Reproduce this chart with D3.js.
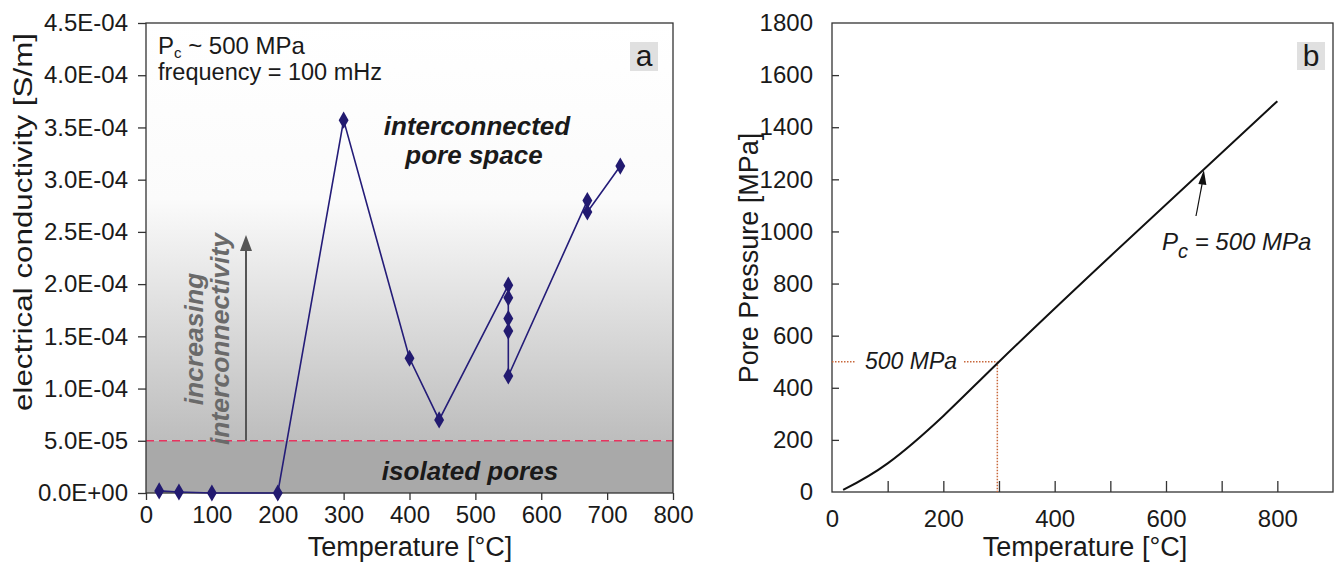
<!DOCTYPE html>
<html>
<head>
<meta charset="utf-8">
<script src="https://cdn.jsdelivr.net/npm/d3@7"></script>
<style>
  body { margin: 0; background: #fff; }
  svg { font-family: "Liberation Sans", Arial, sans-serif; }
</style>
</head>
<body>
<svg id="chart" width="1338" height="565"></svg>
<script>
// panel a: conductivity measurements
var tempA = [20, 50, 100, 200, 300, 400, 445, 550, 550, 550, 550, 550, 670, 670, 720];
var condA = [2e-6, 1e-6, 0, 0, 3.57e-4, 1.29e-4, 7.0e-5, 1.99e-4, 1.87e-4, 1.67e-4, 1.55e-4, 1.12e-4, 2.80e-4, 2.69e-4, 3.13e-4];
var condTicks = [0, 5e-5, 1e-4, 1.5e-4, 2e-4, 2.5e-4, 3e-4, 3.5e-4, 4e-4, 4.5e-4];
var condLabels = ["0.0E+00", "5.0E-05", "1.0E-04", "1.5E-04", "2.0E-04", "2.5E-04", "3.0E-04", "3.5E-04", "4.0E-04", "4.5E-04"];
var tempTicksA = [0, 100, 200, 300, 400, 500, 600, 700, 800];
var threshold = 5e-5;

// panel b: pore pressure curve
var tempB = [20, 100, 200, 300, 500, 800];
var presB = [8, 110, 292, 500, 905, 1500];
var presTicks = [0, 200, 400, 600, 800, 1000, 1200, 1400, 1600, 1800];
var tempTicksB = [0, 100, 200, 300, 400, 500, 600, 700, 800, 900];
var tempLabelsB = [0, 200, 400, 600, 800];
var pcMark = {t: 297, p: 500};
var pcArrowT = 668;

var svg = d3.select("#chart");
var defs = svg.append("defs");

// ---------- panel a ----------
var xa = d3.scaleLinear().domain([0, 800]).range([146, 673]);
var ya = d3.scaleLinear().domain([0, 4.5e-4]).range([493, 23]);

var grad = defs.append("linearGradient")
    .attr("id", "bg")
    .attr("gradientUnits", "userSpaceOnUse")
    .attr("x1", 0).attr("x2", 0)
    .attr("y1", ya(4.5e-4)).attr("y2", ya(threshold));
grad.append("stop").attr("offset", 0).attr("stop-color", "#ffffff");
grad.append("stop").attr("offset", 0.42).attr("stop-color", "#fbfbfb");
grad.append("stop").attr("offset", 1).attr("stop-color", "#bdbdbd");

var ga = svg.append("g");
ga.append("rect")
    .attr("x", xa(0)).attr("y", ya(4.5e-4))
    .attr("width", xa(800) - xa(0)).attr("height", ya(threshold) - ya(4.5e-4))
    .attr("fill", "url(#bg)");
ga.append("rect")
    .attr("x", xa(0)).attr("y", ya(threshold))
    .attr("width", xa(800) - xa(0)).attr("height", ya(0) - ya(threshold))
    .attr("fill", "#a9a9a9");

ga.append("line")
    .attr("x1", xa(0)).attr("x2", xa(800))
    .attr("y1", ya(threshold)).attr("y2", ya(threshold))
    .attr("stroke", "#e8335f").attr("stroke-width", 1.5)
    .attr("stroke-dasharray", "8,5");

// frame
ga.append("rect")
    .attr("x", xa(0)).attr("y", ya(4.5e-4))
    .attr("width", xa(800) - xa(0)).attr("height", ya(0) - ya(4.5e-4))
    .attr("fill", "none").attr("stroke", "#333").attr("stroke-width", 1.3);

var yAxisA = ga.append("g")
    .attr("transform", "translate(" + xa(0) + ",0)")
    .call(d3.axisLeft(ya).tickValues(condTicks).tickSize(8).tickPadding(10)
        .tickFormat(function (d, i) { return condLabels[i]; }));
var xAxisA = ga.append("g")
    .attr("transform", "translate(0," + ya(0) + ")")
    .call(d3.axisBottom(xa).tickValues(tempTicksA).tickSize(7).tickPadding(6));

[yAxisA, xAxisA].forEach(function (ax) {
  ax.select(".domain").remove();
  ax.selectAll("line").attr("stroke", "#333").attr("stroke-width", 1.3);
  ax.selectAll("text").attr("font-size", 24).attr("fill", "#1a1a1a")
      .attr("font-family", "Liberation Sans, Arial, sans-serif");
});

// gray arrow + text
ga.append("line")
    .attr("x1", 246).attr("x2", 246)
    .attr("y1", ya(threshold)).attr("y2", 250)
    .attr("stroke", "#555").attr("stroke-width", 2);
ga.append("path")
    .attr("d", "M246,235 L240,251 L252,251 Z")
    .attr("fill", "#555");
var inc = ga.append("text")
    .attr("transform", "translate(0,339) rotate(-90)")
    .attr("text-anchor", "middle")
    .attr("font-size", 26.5).attr("font-weight", "bold").attr("font-style", "italic")
    .attr("fill", "#6a6a6a");
inc.append("tspan").attr("x", 0).attr("y", 203).text("increasing");
inc.append("tspan").attr("x", 0).attr("y", 229).text("interconnectivity");

// data line and markers
var pts = tempA.map(function (t, i) { return [xa(t), ya(condA[i])]; });
ga.append("path")
    .attr("d", d3.line()(pts))
    .attr("fill", "none").attr("stroke", "#241c78").attr("stroke-width", 1.6);
ga.selectAll(".dia")
    .data(pts)
    .join("path")
    .attr("class", "dia")
    .attr("transform", function (d) { return "translate(" + d[0] + "," + d[1] + ")"; })
    .attr("d", d3.symbol().type(d3.symbolDiamond).size(85))
    .attr("fill", "#221a70");

// annotations
var lab = ga.append("g").attr("font-weight", "bold").attr("font-style", "italic")
    .attr("font-size", 26).attr("fill", "#1a1a1a").attr("text-anchor", "middle");
lab.append("text").attr("x", 477).attr("y", 135).text("interconnected");
lab.append("text").attr("x", 474).attr("y", 164).text("pore space");
lab.append("text").attr("x", 470).attr("y", 480).text("isolated pores");

var pc = ga.append("text").attr("x", 158).attr("y", 54).attr("font-size", 24).attr("fill", "#1a1a1a");
pc.append("tspan").text("P");
pc.append("tspan").attr("font-size", 15).attr("dy", 4).text("c");
pc.append("tspan").attr("dy", -4).text(" ~ 500 MPa");
ga.append("text").attr("x", 158).attr("y", 80).attr("font-size", 23.5).attr("fill", "#1a1a1a")
    .text("frequency = 100 mHz");

ga.append("rect").attr("x", 630).attr("y", 42).attr("width", 28).attr("height", 29).attr("fill", "#e0e0e0");
ga.append("text").attr("x", 644).attr("y", 66).attr("text-anchor", "middle")
    .attr("font-size", 30).attr("fill", "#1a1a1a").text("a");

// axis titles
svg.append("text")
    .attr("transform", "translate(32,222) rotate(-90)")
    .attr("text-anchor", "middle").attr("font-size", 26).attr("fill", "#1a1a1a")
    .attr("textLength", 378).attr("lengthAdjust", "spacingAndGlyphs")
    .text("electrical conductivity [S/m]");
svg.append("text")
    .attr("x", 410).attr("y", 556)
    .attr("text-anchor", "middle").attr("font-size", 27).attr("fill", "#1a1a1a")
    .text("Temperature [°C]");

// ---------- panel b ----------
var xb = d3.scaleLinear().domain([0, 900]).range([832, 1333]);
var yb = d3.scaleLinear().domain([0, 1800]).range([492, 23]);

var gb = svg.append("g");
gb.append("rect")
    .attr("x", xb(0)).attr("y", yb(1800))
    .attr("width", xb(900) - xb(0)).attr("height", yb(0) - yb(1800))
    .attr("fill", "none").attr("stroke", "#333").attr("stroke-width", 1.3);

var yAxisB = gb.append("g")
    .attr("transform", "translate(" + xb(0) + ",0)")
    .call(d3.axisLeft(yb).tickValues(presTicks).tickSizeInner(-7).tickSizeOuter(0).tickPadding(19)
        .tickFormat(d3.format("d")));
var xAxisB = gb.append("g")
    .attr("transform", "translate(0," + yb(0) + ")")
    .call(d3.axisBottom(xb).tickValues(tempTicksB).tickSizeInner(-11).tickSizeOuter(0).tickPadding(18)
        .tickFormat(function (d) { return tempLabelsB.indexOf(d) >= 0 ? d : ""; }));
[yAxisB, xAxisB].forEach(function (ax) {
  ax.select(".domain").remove();
  ax.selectAll("line").attr("stroke", "#333").attr("stroke-width", 1.3);
  ax.selectAll("text").attr("font-size", 24).attr("fill", "#1a1a1a")
      .attr("font-family", "Liberation Sans, Arial, sans-serif");
});
xAxisB.selectAll(".tick").filter(function (d) { return d === 0 || d === 900; }).select("line").remove();
yAxisB.selectAll(".tick").filter(function (d) { return d === 0 || d === 1800; }).select("line").remove();

// dotted guides at 500 MPa
var dotCol = "#c8683c";
gb.append("line")
    .attr("x1", xb(0)).attr("x2", 856).attr("y1", yb(pcMark.p)).attr("y2", yb(pcMark.p))
    .attr("stroke", dotCol).attr("stroke-width", 1.5).attr("stroke-dasharray", "1.5,1.5");
gb.append("line")
    .attr("x1", 964).attr("x2", xb(pcMark.t)).attr("y1", yb(pcMark.p)).attr("y2", yb(pcMark.p))
    .attr("stroke", dotCol).attr("stroke-width", 1.5).attr("stroke-dasharray", "1.5,1.5");
gb.append("line")
    .attr("x1", xb(pcMark.t)).attr("x2", xb(pcMark.t)).attr("y1", yb(pcMark.p)).attr("y2", yb(0))
    .attr("stroke", dotCol).attr("stroke-width", 1.5).attr("stroke-dasharray", "1.5,1.5");
gb.append("text").attr("x", 865).attr("y", 369)
    .attr("font-size", 23).attr("font-style", "italic").attr("fill", "#1a1a1a").text("500 MPa");

// curve
gb.append("path")
    .attr("d", d3.line().curve(d3.curveNatural)
        .x(function (d, i) { return xb(d); })
        .y(function (d, i) { return yb(presB[i]); })(tempB))
    .attr("fill", "none").attr("stroke", "#111").attr("stroke-width", 2);

// Pc label and arrow
var tipX = xb(pcArrowT), tipY = yb(500 + 2 * (pcArrowT - 300));
gb.append("line").attr("x1", 1196).attr("y1", 216).attr("x2", tipX - 1).attr("y2", tipY + 10)
    .attr("stroke", "#111").attr("stroke-width", 1.2);
gb.append("path")
    .attr("d", "M" + tipX + "," + tipY + " L" + (tipX - 5.5) + "," + (tipY + 14) + " L" + (tipX + 2.5) + "," + (tipY + 15) + " Z")
    .attr("fill", "#111");
var pcb = gb.append("text").attr("x", 1162).attr("y", 250)
    .attr("font-size", 24).attr("font-style", "italic").attr("fill", "#1a1a1a");
pcb.append("tspan").text("P");
pcb.append("tspan").attr("font-size", 20).attr("dy", 8).text("c");
pcb.append("tspan").attr("dy", -8).text(" = 500 MPa");

gb.append("rect").attr("x", 1297).attr("y", 42).attr("width", 28).attr("height", 28).attr("fill", "#e0e0e0");
gb.append("text").attr("x", 1311).attr("y", 66).attr("text-anchor", "middle")
    .attr("font-size", 30).attr("fill", "#1a1a1a").text("b");

svg.append("text")
    .attr("transform", "translate(758,258) rotate(-90)")
    .attr("text-anchor", "middle").attr("font-size", 27).attr("fill", "#1a1a1a")
    .text("Pore Pressure [MPa]");
svg.append("text")
    .attr("x", 1085).attr("y", 556)
    .attr("text-anchor", "middle").attr("font-size", 27).attr("fill", "#1a1a1a")
    .text("Temperature [°C]");
</script>
</body>
</html>
